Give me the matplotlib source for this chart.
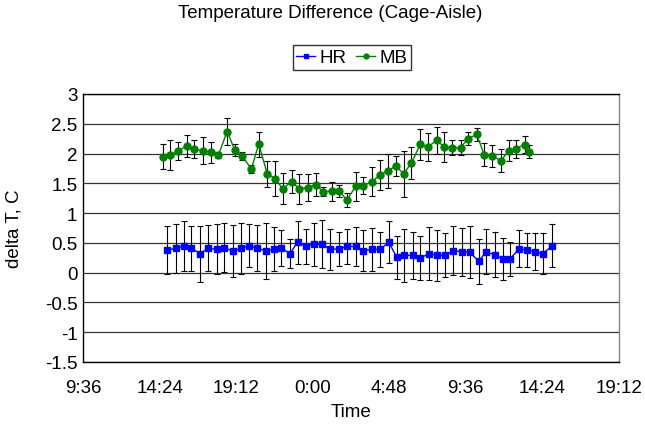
import matplotlib
matplotlib.use("Agg")
import matplotlib.pyplot as plt
from matplotlib.lines import Line2D

plt.rcParams['font.family'] = ['Liberation Sans', 'DejaVu Sans']

# ---- data ----
hr_times = ["14:53", "15:27", "15:55", "16:23", "16:57", "17:26", "17:59", "18:26",
            "19:01", "19:29", "20:01", "20:30", "21:04", "21:33", "22:01", "22:34",
            "23:03", "23:36", "0:04", "0:36", "1:06", "1:39", "2:08", "2:43",
            "3:10", "3:43", "4:13", "4:46", "5:16", "5:43", "6:16", "6:45",
            "7:19", "7:46", "8:19", "8:49", "9:21", "9:50", "10:24", "10:52",
            "11:25", "11:54", "12:22", "12:56", "13:25", "13:57", "14:26", "15:00"]
hr_values = [0.38, 0.41, 0.45, 0.41, 0.32, 0.41, 0.39, 0.42,
             0.36, 0.41, 0.45, 0.41, 0.37, 0.39, 0.42, 0.32,
             0.51, 0.44, 0.48, 0.48, 0.39, 0.40, 0.44, 0.44,
             0.37, 0.39, 0.39, 0.51, 0.26, 0.29, 0.29, 0.25,
             0.32, 0.29, 0.29, 0.37, 0.35, 0.35, 0.19, 0.35,
             0.30, 0.23, 0.23, 0.40, 0.38, 0.35, 0.32, 0.45]
hr_errors = [0.40, 0.41, 0.42, 0.38, 0.47, 0.39, 0.42, 0.41,
             0.44, 0.43, 0.36, 0.39, 0.47, 0.37, 0.30, 0.25,
             0.36, 0.30, 0.36, 0.40, 0.34, 0.29, 0.29, 0.32,
             0.34, 0.36, 0.29, 0.35, 0.36, 0.45, 0.39, 0.37,
             0.44, 0.43, 0.37, 0.41, 0.40, 0.44, 0.38, 0.38,
             0.38, 0.36, 0.29, 0.31, 0.29, 0.31, 0.34, 0.36]

mb_times = ["14:36", "15:04", "15:33", "16:06", "16:35", "17:08", "17:36", "18:05",
            "18:38", "19:07", "19:35", "20:09", "20:37", "21:09", "21:38", "22:07",
            "22:41", "23:09", "23:42", "0:11", "0:39", "1:11", "1:40", "2:08",
            "2:42", "3:10", "3:43", "4:13", "4:42", "5:13", "5:42", "6:11",
            "6:45", "7:13", "7:46", "8:15", "8:44", "9:16", "9:44", "10:17",
            "10:45", "11:15", "11:48", "12:18", "12:44", "13:17", "13:34"]
mb_values = [1.95, 1.98, 2.04, 2.13, 2.07, 2.05, 2.02, 1.97,
             2.37, 2.06, 1.96, 1.74, 2.16, 1.66, 1.58, 1.41,
             1.53, 1.41, 1.43, 1.48, 1.36, 1.37, 1.37, 1.22,
             1.45, 1.46, 1.53, 1.64, 1.71, 1.79, 1.66, 1.84,
             2.16, 2.11, 2.22, 2.11, 2.10, 2.10, 2.25, 2.32,
             1.98, 1.96, 1.88, 2.05, 2.08, 2.15, 2.03]
mb_errors = [0.21, 0.25, 0.15, 0.18, 0.15, 0.22, 0.18, 0.05,
             0.22, 0.10, 0.06, 0.06, 0.21, 0.22, 0.30, 0.26,
             0.20, 0.25, 0.23, 0.19, 0.08, 0.16, 0.10, 0.12,
             0.24, 0.14, 0.25, 0.26, 0.28, 0.17, 0.39, 0.27,
             0.26, 0.24, 0.22, 0.26, 0.12, 0.12, 0.11, 0.11,
             0.19, 0.19, 0.19, 0.18, 0.15, 0.14, 0.11]

x_tick_labels = ["9:36", "14:24", "19:12", "0:00", "4:48", "9:36", "14:24", "19:12"]
y_ticks = [-1.5, -1, -0.5, 0, 0.5, 1, 1.5, 2, 2.5, 3]
y_tick_labels = ["-1.5", "-1", "-0.5", "0", "0.5", "1", "1.5", "2", "2.5", "3"]


def to_days(times):
    out = []
    day = 0
    prev = None
    for t in times:
        h, m = t.split(":")
        v = (int(h) + int(m) / 60.0) / 24.0
        if prev is not None and v + day < prev - 0.5:
            day += 1
        out.append(v + day)
        prev = v + day
    return out


hr_x = to_days(hr_times)
mb_x = to_days(mb_times)

W, H = 645, 427
fig = plt.figure(figsize=(W / 100, H / 100), dpi=100)
ax = fig.add_axes([83 / W, 1 - 363 / H, (619 - 83) / W, (363 - 95) / H])

FS = 13.5

ax.set_xlim(0.4, 1.8)
ax.set_ylim(-1.5, 3)
ax.set_yticks(y_ticks)
ax.set_yticklabels(y_tick_labels)
ax.set_xticks([0.4 + 0.2 * i for i in range(len(x_tick_labels))])
ax.set_xticklabels(x_tick_labels)
ax.tick_params(axis='both', length=0, labelsize=FS)
ax.tick_params(axis='x', pad=12)
ax.tick_params(axis='y', pad=4)
ax.grid(axis='y', color='#333333', linewidth=0.9)
ax.set_axisbelow(True)
for s in ax.spines.values():
    s.set_color('black')
    s.set_linewidth(1.0)
ax.spines['right'].set_color('#808080')

ebkw = dict(ecolor='black', elinewidth=0.8, capsize=2.5, capthick=0.8)
ax.errorbar(hr_x, hr_values, yerr=hr_errors, color='#0000FF', marker='s',
            markersize=4.5, linewidth=1.0, label='HR', zorder=3, **ebkw)
ax.errorbar(mb_x, mb_values, yerr=mb_errors, color='#008000', marker='o',
            markersize=5, linewidth=1.0, label='MB', zorder=3, **ebkw)

ax.set_ylabel("delta T, C", fontsize=FS)
ax.yaxis.set_label_coords((22 - 83) / 536, 0.5)
ax.set_xlabel("Time", fontsize=FS)
ax.xaxis.set_label_coords(0.5, -(413 - 363) / 268)
ax.xaxis.label.set_verticalalignment('center')

fig.text(330.5 / W, 1 - 14 / H, "Temperature Difference (Cage-Aisle)",
         ha='center', va='center', fontsize=FS)

h1 = Line2D([], [], color='#0000FF', marker='s', markersize=3.5, linewidth=1.0)
h2 = Line2D([], [], color='#008000', marker='o', markersize=3.5, linewidth=1.0)
leg = fig.legend([h1, h2], ['HR', 'MB'], ncol=2, loc='center',
                 bbox_to_anchor=(352 / W, 1 - 58.5 / H), fontsize=FS,
                 frameon=True, fancybox=False, handlelength=1.0,
                 handletextpad=0.25, columnspacing=0.5, borderpad=0.2,
                 borderaxespad=0)
leg.get_frame().set_edgecolor('black')
leg.get_frame().set_linewidth(1.0)

fig.savefig("out.png", dpi=100)
